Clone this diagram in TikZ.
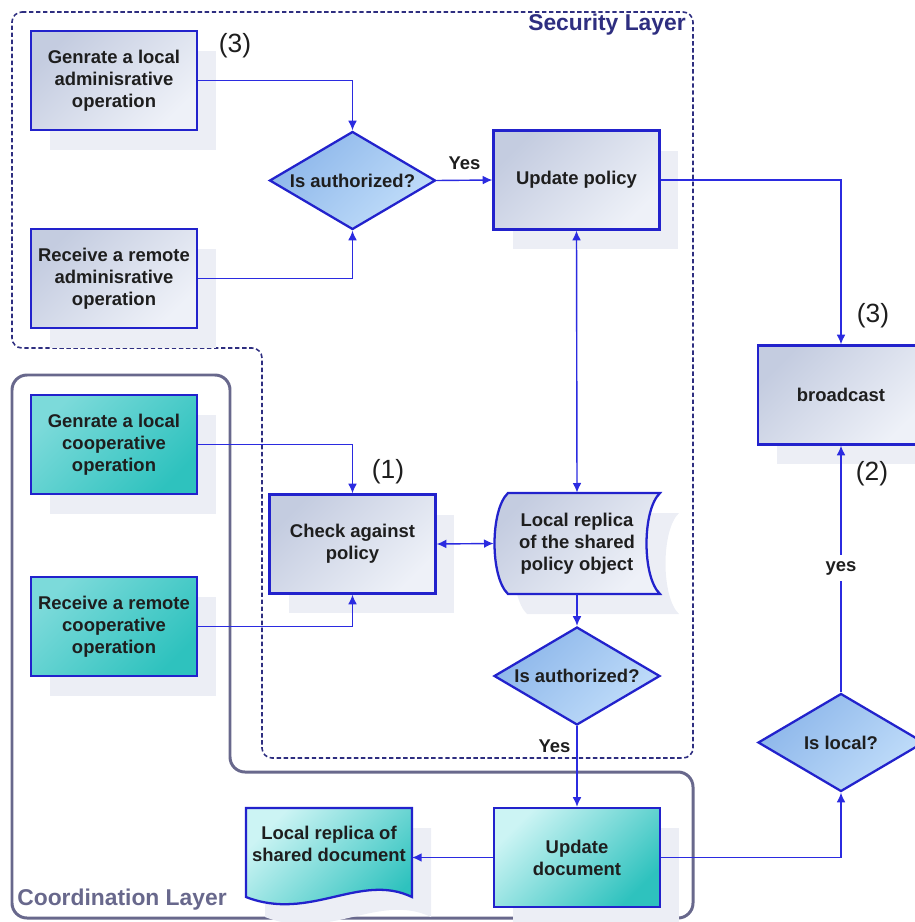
\documentclass[tikz,border=0pt]{standalone}
\usepackage{fontspec}
\setmainfont{Liberation Sans}
\usepackage{tikz}
\usetikzlibrary{shapes.geometric, shadows, arrows.meta}

\definecolor{edgeblue}{HTML}{2222CC}
\definecolor{linkblue}{HTML}{2B2BE0}
\definecolor{grayA}{HTML}{C4CCE0}
\definecolor{grayB}{HTML}{EEF1F8}
\definecolor{tealA}{HTML}{7CDADA}
\definecolor{tealB}{HTML}{2EC2BE}
\definecolor{paleA}{HTML}{CCF4F4}
\definecolor{diaA}{HTML}{8CB6EA}
\definecolor{diaB}{HTML}{C2DEFA}
\definecolor{shadowc}{HTML}{ECEEF5}
\definecolor{secnavy}{HTML}{2E2E80}
\definecolor{coordc}{HTML}{68688C}
\definecolor{txtc}{HTML}{1E1E1E}

\newcommand{\blockfont}{\fontsize{10.5}{12.5}\selectfont\bfseries}
\newcommand{\layerfont}{\fontsize{13}{15}\selectfont\bfseries}
\newcommand{\stepfont}{\fontsize{15}{17}\selectfont}

\tikzset{
  blockbox/.style={draw=edgeblue, line width=1.3pt, minimum width=3.32cm, minimum height=1.98cm,
    align=center, font=\blockfont, text=txtc,
    drop shadow={shadow xshift=0.38cm, shadow yshift=-0.4cm, fill=shadowc, opacity=1}},
  adminbox/.style={blockbox, top color=grayA, bottom color=grayB, shading angle=45},
  coopbox/.style={blockbox, top color=tealA, bottom color=tealB, shading angle=45},
  docbox/.style={blockbox, top color=paleA, bottom color=tealB, shading angle=45},
  decision/.style={diamond, draw=edgeblue, line width=1.3pt, minimum width=3.32cm, minimum height=1.96cm,
    inner sep=0pt, font=\blockfont, text=txtc, top color=diaA, bottom color=diaB, shading angle=45},
  tip/.tip={Latex[length=5.5pt, width=5pt]},
  link/.style={draw=linkblue, line width=0.8pt, -tip},
  answer/.style={font=\blockfont, text=txtc},
  stepmark/.style={font=\stepfont, text=txtc},
}

\begin{document}
\begin{tikzpicture}[x=0.02cm, y=-0.02cm]
\useasboundingbox (0,0) rectangle (914,922);

% the two layers
\draw[coordc, line width=1.7pt, rounded corners=0.3cm] (12,375) -- (230,375) -- (230,772) -- (693,772) -- (693,918) -- (12,918) -- cycle;
\draw[secnavy, line width=0.9pt, dash pattern=on 2.5pt off 1.5pt, rounded corners=0.2cm] (12,12) -- (693,12) -- (693,758) -- (262,758) -- (262,348) -- (12,348) -- cycle;
\node[font=\layerfont, text=secnavy] (sec) at (607,25) {Security Layer};
\node[font=\layerfont, text=coordc] (coord) at (122,900) {Coordination Layer};

% boxes
\node[adminbox] (ga) at (114,80.5) {Genrate a local\\adminisrative\\operation};
\node[adminbox] (ra) at (114,278.5) {Receive a remote\\adminisrative\\operation};
\node[decision] (auth1) at (352.5,180.5) {\makebox[0pt]{Is authorized?}};
\node[adminbox] (up) at (576.5,180) {Update policy};
\node[adminbox] (bc) at (841,395) {broadcast};
\node[coopbox] (gc) at (114,444.5) {Genrate a local\\cooperative\\operation};
\node[coopbox] (rc) at (114,626.5) {Receive a remote\\cooperative\\operation};
\node[adminbox] (chk) at (352.5,544) {Check against\\policy};

% stored policy object
\fill[shadowc, shift={(19,20)}] (508,493) -- (660,493) .. controls (642,510) and (642,577) .. (660,594) -- (508,594) .. controls (490,577) and (490,510) .. (508,493) -- cycle;
\path[draw=edgeblue, line width=1.3pt, top color=grayA, bottom color=grayB, shading angle=45] (508,493) -- (660,493) .. controls (642,510) and (642,577) .. (660,594) -- (508,594) .. controls (490,577) and (490,510) .. (508,493) -- cycle;
\node[font=\blockfont, text=txtc, align=center, minimum width=3.32cm, minimum height=2.02cm] (rp) at (577,543.5) {Local replica\\of the shared\\policy object};

\node[decision] (auth2) at (577,676) {\makebox[0pt]{Is authorized?}};
\node[docbox] (ud) at (577,857.5) {Update\\document};

% shared document
\fill[shadowc, shift={(19,20)}] (246,808) -- (412,808) -- (412,897) .. controls (360,872) and (310,922) .. (246,897) -- cycle;
\path[draw=edgeblue, line width=1.3pt, top color=paleA, bottom color=tealB, shading angle=45] (246,808) -- (412,808) -- (412,897) .. controls (360,872) and (310,922) .. (246,897) -- cycle;
\node[font=\blockfont, text=txtc, align=center] (sdoc) at (329,844) {Local replica of\\shared document};
\coordinate (sdocE) at (412,857.5);

\node[decision] (loc) at (841,742.5) {\makebox[0pt]{Is local?}};

% step numbers
\node[stepmark] (n3a) at (235,46) {(3)};
\node[stepmark] (n3b) at (873,316) {(3)};
\node[stepmark] (n1) at (388,472) {(1)};
\node[stepmark] (n2) at (872,474) {(2)};

% connectors
\draw[link] (ga.east) -| (auth1.north);
\draw[link] (ra.east) -| (auth1.south);
\draw[link] (auth1.east) -- (up.west) node[answer, midway, above=2pt] (yes1) {Yes};
\draw[link] (up.east) -| (bc.north);
\draw[link] (gc.east) -| (chk.north);
\draw[link] (rc.east) -| (chk.south);
\draw[link, tip-tip] (chk.east) -- (rp.west);
\draw[link, tip-tip] (up.south) -- (rp.north);
\draw[link] (rp.south) -- (auth2.north);
\draw[link] (auth2.south) -- (ud.north) node[answer, pos=0.25, left] (yes2) {Yes};
\draw[link] (ud.west) -- (sdocE);
\draw[link] (ud.east) -| (loc.south);
\draw[link] (loc.north) -- (bc.south) node[answer, pos=0.504, fill=white] (yes3) {yes};

\end{tikzpicture}
\end{document}
